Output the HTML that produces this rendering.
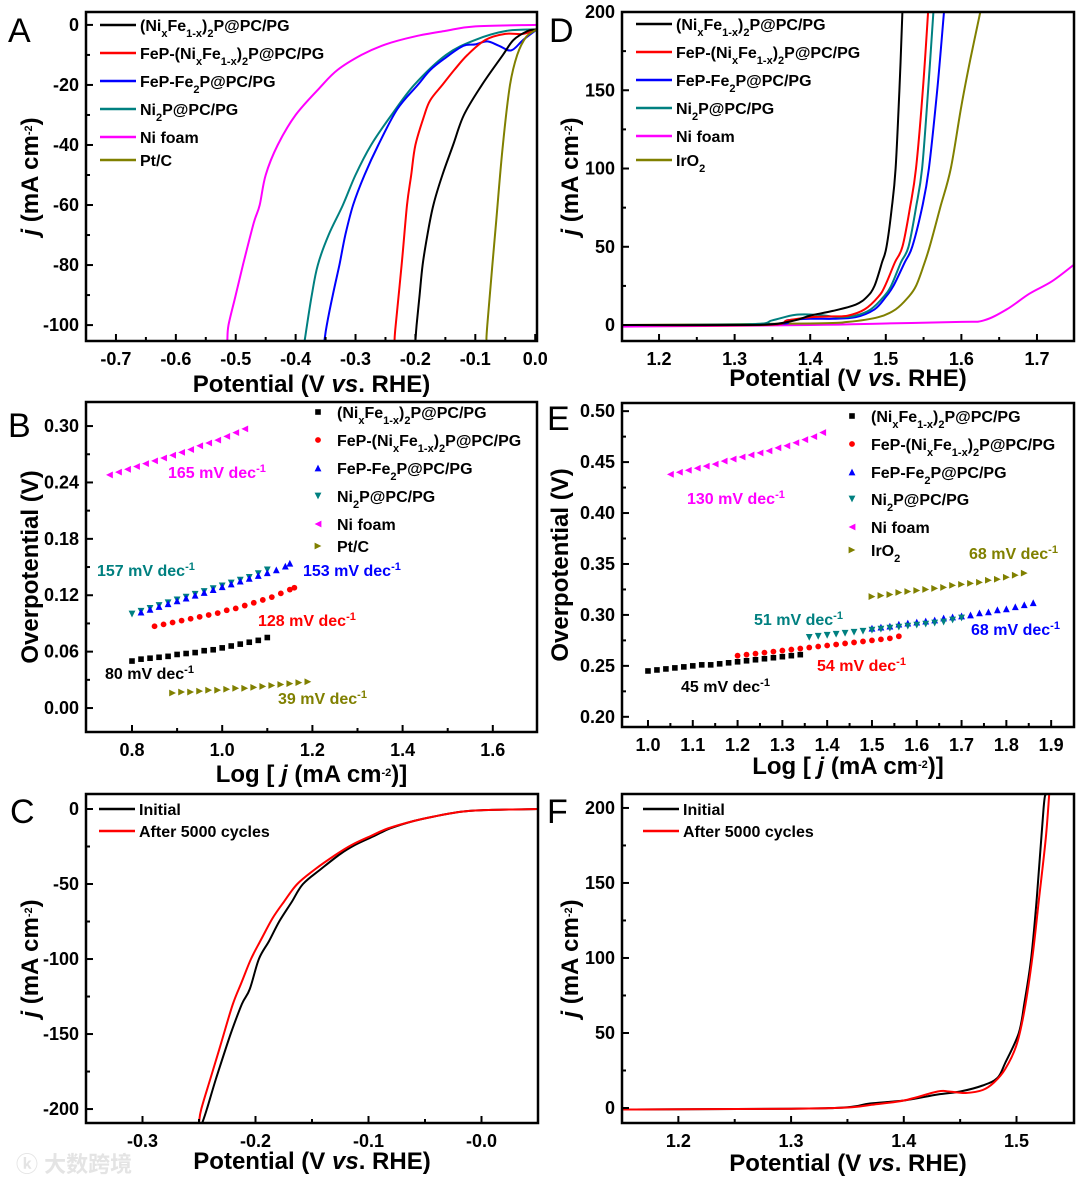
<!DOCTYPE html>
<html><head><meta charset="utf-8">
<style>
html,body{margin:0;padding:0;background:#fff;}
svg{display:block;font-family:"Liberation Sans",Arial,sans-serif;}
.tk{font-size:18px;font-weight:bold;fill:#000;}
.lg{font-size:16px;font-weight:bold;fill:#000;}
.at{font-size:24px;font-weight:bold;fill:#000;}
.pl{font-size:34px;fill:#000;}
.an{font-size:16px;font-weight:bold;}
</style></head>
<body>
<svg id="fig" width="1080" height="1180" viewBox="0 0 1080 1180" xmlns="http://www.w3.org/2000/svg">
<text x="16" y="1172" font-size="22" font-weight="bold" fill="#e4e4e4" font-family="'Liberation Sans','Noto Sans CJK SC',sans-serif">ⓚ 大数跨境</text>
</svg>
<script>
// ---------- Panel A data (HER polarization) ----------
const aBlackX=[0.003,-0.012,-0.036,-0.054,-0.089,-0.119,-0.137,-0.155,-0.17,-0.18,-0.188,-0.193,-0.198,-0.2];
const aBlackY=[-1.5,-2,-5,-10,-20,-30,-40,-50,-60,-70,-80,-90,-100,-105.3];
const aRedX=[0.003,-0.02,-0.05,-0.083,-0.113,-0.135,-0.155,-0.175,-0.185,-0.2,-0.207,-0.214,-0.223,-0.233,-0.235];
const aRedY=[-1.5,-3,-3,-5,-10,-15,-20,-25,-30,-40,-50,-60,-80,-100,-105.3];
const aBlueX=[0.003,-0.02,-0.04,-0.06,-0.08,-0.1,-0.12,-0.15,-0.175,-0.196,-0.23,-0.262,-0.285,-0.304,-0.317,-0.327,-0.338,-0.348,-0.352];
const aBlueY=[-1.5,-5,-8.5,-7,-5.5,-6.5,-7,-11,-15,-20,-28,-40,-50,-60,-70,-80,-90,-100,-105.3];
const aTealX=[0.003,-0.048,-0.1,-0.149,-0.202,-0.24,-0.274,-0.3,-0.321,-0.345,-0.363,-0.373,-0.381,-0.385];
const aTealY=[-1.5,-2,-5,-10,-20,-30,-40,-50,-60,-70,-80,-90,-100,-105.3];
const aNiX=[0.003,-0.1,-0.15,-0.2,-0.25,-0.29,-0.33,-0.36,-0.4,-0.43,-0.45,-0.46,-0.47,-0.488,-0.5,-0.512,-0.514];
const aNiY=[0,-0.5,-2,-3.8,-6.5,-10,-15,-21,-30,-40,-50,-60,-66,-80,-90,-100,-105.3];
const aPtX=[0.003,-0.015,-0.03,-0.042,-0.054,-0.065,-0.08,-0.081];
const aPtY=[-1.5,-4,-10,-20,-40,-65,-100,-105.3];
// ---------- Panel D data (OER polarization) ----------
const dBlackX=[1.15,1.3,1.35,1.38,1.4,1.43,1.46,1.475,1.485,1.495,1.501,1.508,1.513,1.518,1.522];
const dBlackY=[0,0,0.5,3,6,9,13,18,25,40,50,75,100,150,200];
const dRedX=[1.15,1.34,1.37,1.4,1.43,1.45,1.472,1.49,1.499,1.512,1.522,1.532,1.54,1.549,1.556];
const dRedY=[0,0,3,5,5.5,6,10,18,25,40,50,75,100,150,200];
const dTealX=[1.15,1.32,1.35,1.38,1.41,1.44,1.46,1.48,1.497,1.507,1.52,1.53,1.54,1.548,1.556,1.563];
const dTealY=[0,0.5,3,6.5,6.5,5,6,10,18,25,40,50,75,100,150,200];
const dBlueX=[1.15,1.35,1.37,1.4,1.43,1.46,1.485,1.5,1.51,1.525,1.535,1.548,1.557,1.568,1.577];
const dBlueY=[0,0.5,3,4,4,5,10,18,25,40,50,75,100,150,200];
const dNiX=[1.15,1.4,1.5,1.6,1.63,1.66,1.69,1.72,1.75];
const dNiY=[-1,0,1,2,3,10,20,28,39];
const dIrX=[1.15,1.4,1.45,1.49,1.513,1.53,1.54,1.55,1.558,1.572,1.586,1.6,1.612,1.625];
const dIrY=[0,1,2,5,10,18,25,38,50,75,100,140,170,200];
// ---------- Panel B data (HER Tafel) ----------
const bBlackX=[0.80,0.82,0.84,0.86,0.88,0.90,0.92,0.94,0.96,0.98,1.00,1.02,1.04,1.06,1.08,1.10];
const bBlackY=[0.050,0.052,0.053,0.054,0.055,0.057,0.058,0.059,0.061,0.062,0.064,0.066,0.068,0.070,0.072,0.075];
const bRedX=[0.85,0.87,0.89,0.91,0.93,0.95,0.97,0.99,1.01,1.03,1.05,1.07,1.09,1.11,1.13,1.15,1.16];
const bRedY=[0.087,0.089,0.091,0.093,0.095,0.097,0.099,0.101,0.104,0.106,0.109,0.112,0.115,0.118,0.122,0.126,0.128];
const bBlueX=[0.82,0.84,0.86,0.88,0.90,0.92,0.94,0.96,0.98,1.00,1.02,1.04,1.06,1.08,1.10,1.12,1.14,1.15];
const bBlueY=[0.102,0.105,0.108,0.111,0.114,0.117,0.120,0.123,0.126,0.129,0.132,0.135,0.138,0.141,0.144,0.147,0.151,0.154];
const bTealX=[0.80,0.82,0.84,0.86,0.88,0.90,0.92,0.94,0.96,0.98,1.00,1.02,1.04,1.06,1.08,1.10];
const bTealY=[0.100,0.103,0.106,0.109,0.112,0.115,0.118,0.121,0.124,0.127,0.130,0.133,0.136,0.139,0.143,0.147];
const bNiX=[0.75,0.77,0.79,0.81,0.83,0.85,0.87,0.89,0.91,0.93,0.95,0.97,0.99,1.01,1.03,1.05];
const bNiY=[0.248,0.251,0.254,0.257,0.260,0.263,0.266,0.269,0.272,0.275,0.279,0.282,0.285,0.289,0.293,0.297];
const bPtX=[0.89,0.91,0.93,0.95,0.97,0.99,1.01,1.03,1.05,1.07,1.09,1.11,1.13,1.15,1.17,1.19];
const bPtY=[0.016,0.017,0.017,0.018,0.019,0.019,0.020,0.021,0.021,0.022,0.023,0.024,0.025,0.026,0.027,0.028];
// ---------- Panel E data (OER Tafel) ----------
const eBlackX=[1.00,1.02,1.04,1.06,1.08,1.10,1.12,1.14,1.16,1.18,1.20,1.22,1.24,1.26,1.28,1.30,1.32,1.34];
const eBlackY=[0.245,0.246,0.247,0.248,0.249,0.250,0.251,0.251,0.252,0.253,0.254,0.255,0.256,0.257,0.258,0.259,0.260,0.261];
const eRedX=[1.20,1.22,1.24,1.26,1.28,1.30,1.32,1.34,1.36,1.38,1.40,1.42,1.44,1.46,1.48,1.50,1.52,1.54,1.56];
const eRedY=[0.260,0.261,0.262,0.263,0.264,0.265,0.266,0.267,0.268,0.269,0.270,0.271,0.272,0.273,0.274,0.275,0.276,0.277,0.279];
const eTealX=[1.36,1.38,1.40,1.42,1.44,1.46,1.48,1.50,1.52,1.54,1.56,1.58,1.60,1.62,1.64,1.66,1.68,1.70];
const eTealY=[0.278,0.279,0.280,0.281,0.282,0.283,0.284,0.285,0.286,0.287,0.288,0.289,0.290,0.291,0.292,0.293,0.295,0.297];
const eBlueX=[1.50,1.52,1.54,1.56,1.58,1.60,1.62,1.64,1.66,1.68,1.70,1.72,1.74,1.76,1.78,1.80,1.82,1.84,1.86];
const eBlueY=[0.287,0.288,0.289,0.291,0.292,0.293,0.294,0.295,0.297,0.298,0.299,0.300,0.302,0.303,0.305,0.306,0.308,0.310,0.312];
const eNiX=[1.05,1.07,1.09,1.11,1.13,1.15,1.17,1.19,1.21,1.23,1.25,1.27,1.29,1.31,1.33,1.35,1.37,1.39];
const eNiY=[0.438,0.440,0.442,0.444,0.446,0.448,0.451,0.453,0.455,0.457,0.459,0.461,0.464,0.466,0.469,0.472,0.475,0.479];
const eIrX=[1.50,1.52,1.54,1.56,1.58,1.60,1.62,1.64,1.66,1.68,1.70,1.72,1.74,1.76,1.78,1.80,1.82,1.84];
const eIrY=[0.318,0.319,0.320,0.322,0.323,0.324,0.325,0.326,0.327,0.329,0.330,0.331,0.332,0.334,0.335,0.337,0.339,0.341];
// ---------- Panel C data (HER stability) ----------
const cInitX=[-0.247,-0.243,-0.235,-0.222,-0.212,-0.205,-0.197,-0.188,-0.179,-0.168,-0.158,-0.142,-0.125,-0.112,-0.095,-0.081,-0.06,-0.042,-0.02,0,0.05];
const cInitY=[-209,-200,-180,-150,-130,-120,-100,-88,-75,-62,-50,-40,-30,-24,-18,-13,-8,-5,-2,-0.8,0];
const cAftX=[-0.25,-0.248,-0.24,-0.23,-0.22,-0.212,-0.204,-0.195,-0.185,-0.175,-0.163,-0.147,-0.13,-0.115,-0.098,-0.083,-0.06,-0.042,-0.02,0,0.05];
const cAftY=[-209,-200,-180,-155,-130,-115,-100,-87,-73,-62,-50,-40,-31,-24,-18,-13,-8,-5,-2,-0.8,0];
// ---------- Panel F data (OER stability) ----------
const fInitX=[1.15,1.3,1.35,1.37,1.4,1.43,1.45,1.47,1.483,1.49,1.502,1.507,1.513,1.518,1.524,1.526];
const fInitY=[-1,-0.5,0.5,3,5,9,11,15,20,30,50,70,100,140,200,209];
const fAftX=[1.15,1.3,1.35,1.37,1.4,1.43,1.44,1.455,1.47,1.48,1.49,1.5,1.507,1.514,1.52,1.526,1.529];
const fAftY=[-1,-0.5,0.3,2,5,11,11,10,12,17,26,42,65,100,140,180,209];

const NS='http://www.w3.org/2000/svg';
const svg=document.getElementById('fig');
function mk(tag,attrs,parent){const e=document.createElementNS(NS,tag);for(const k in attrs)e.setAttribute(k,attrs[k]);parent.appendChild(e);return e;}
const SB='<tspan font-size="11" baseline-shift="sub">';
const SP='<tspan font-size="11" baseline-shift="super">';
const NIFE='(Ni'+SB+'x</tspan>Fe'+SB+'1-x</tspan>)'+SB+'2</tspan>P@PC/PG';
const LBL=[NIFE,'FeP-'+NIFE,'FeP-Fe'+SB+'2</tspan>P@PC/PG','Ni'+SB+'2</tspan>P@PC/PG','Ni foam'];
const JT='<tspan font-style="italic">j</tspan> (mA cm'+SP+'-2</tspan>)';
const POT='Potential (V <tspan font-style="italic">vs</tspan>. RHE)';
const LOG='Log [ <tspan font-style="italic">j</tspan> (mA cm'+SP+'-2</tspan>)]';
const COL={k:'#000000',r:'#ff0000',b:'#0000ff',t:'#008080',m:'#ff00ff',o:'#808000'};

function panel(c){
  const g=mk('g',{},svg);
  
  
  const sx=v=>c.l+(v-c.x0)/(c.x1-c.x0)*(c.r-c.l);
  const sy=v=>c.b-(v-c.y0)/(c.y1-c.y0)*(c.b-c.t);
  const cp=mk('clipPath',{id:'cp'+c.id},g);
  mk('rect',{x:c.l,y:c.t,width:c.r-c.l,height:c.b-c.t},cp);
  const plot=mk('g',{'clip-path':'url(#cp'+c.id+')'},g);
  
  
  for(let v=c.xt0;v<=c.xt1+1e-9;v+=c.xm){
    const major=Math.abs(Math.round((v-c.xt0)/c.xs)*c.xs-(v-c.xt0))<1e-9;
    const X=sx(v); if(X<c.l-0.5||X>c.r+0.5)continue;
    mk('line',{x1:X,x2:X,y1:c.b,y2:c.b-(major?7:4),stroke:'#000','stroke-width':2},g);
    if(major){const t=mk('text',{x:X,y:c.b+24,'text-anchor':'middle',class:'tk'},g);t.textContent=v.toFixed(c.xd);
      
      }
  }
  for(let v=c.yt0;v<=c.yt1+1e-9;v+=c.ym){
    const major=Math.abs(Math.round((v-c.yt0)/c.ys)*c.ys-(v-c.yt0))<1e-9;
    const Y=sy(v); if(Y<c.t-0.5||Y>c.b+0.5)continue;
    mk('line',{x1:c.l,x2:c.l+(major?7:4),y1:Y,y2:Y,stroke:'#000','stroke-width':2},g);
    if(major){const t=mk('text',{x:c.l-7,y:Y+6,'text-anchor':'end',class:'tk'},g);t.textContent=(Math.abs(v)<1e-9?0:v).toFixed(c.yd);
      
      }
  }
  const fr=mk('rect',{x:c.l,y:c.t,width:c.r-c.l,height:c.b-c.t,fill:'none',stroke:'#000','stroke-width':2.5},g);
  
  
  const xt=mk('text',{x:(c.l+c.r)/2,y:c.b+c.xtOff,'text-anchor':'middle',class:'at'},g);xt.innerHTML=c.xtitle;
  
  
  const yt=mk('text',{x:0,y:0,'text-anchor':'middle',class:'at',transform:'translate('+c.ytx+','+(c.t+c.b)/2+') rotate(-90)'},g);yt.innerHTML=c.ytitle;
  
  
  const pl=mk('text',{x:c.plx,y:c.ply,class:'pl'},g);pl.textContent=c.id;
  
  
  return {g,plot,sx,sy};
}
function line(P,xs,ys,col,name){
  const pts=xs.map((x,i)=>[P.sx(x),P.sy(ys[i])]);
  let d='M'+pts[0][0].toFixed(1)+','+pts[0][1].toFixed(1);
  const t=0.17;
  for(let i=0;i<pts.length-1;i++){
    const p0=pts[Math.max(0,i-1)],p1=pts[i],p2=pts[i+1],p3=pts[Math.min(pts.length-1,i+2)];
    const c1=[p1[0]+(p2[0]-p0[0])*t,p1[1]+(p2[1]-p0[1])*t];
    const c2=[p2[0]-(p3[0]-p1[0])*t,p2[1]-(p3[1]-p1[1])*t];
    d+='C'+c1[0].toFixed(1)+','+c1[1].toFixed(1)+' '+c2[0].toFixed(1)+','+c2[1].toFixed(1)+' '+p2[0].toFixed(1)+','+p2[1].toFixed(1);
  }
  const p=mk('path',{d:d,fill:'none',stroke:col,'stroke-width':2,'stroke-linejoin':'round'},P.plot);
  
  
}
function marker(par,X,Y,shape,col){
  const s=3.4;let pts;
  if(shape==='sq'){return mk('rect',{x:X-2.8,y:Y-2.8,width:5.6,height:5.6,fill:col},par);}
  if(shape==='ci'){return mk('circle',{cx:X,cy:Y,r:2.9,fill:col},par);}
  if(shape==='up')pts=[[X,Y-s],[X-s,Y+s],[X+s,Y+s]];
  if(shape==='dn')pts=[[X,Y+s],[X-s,Y-s],[X+s,Y-s]];
  if(shape==='lt')pts=[[X-s,Y],[X+s,Y-s],[X+s,Y+s]];
  if(shape==='rt')pts=[[X+s,Y],[X-s,Y-s],[X-s,Y+s]];
  return mk('polygon',{points:pts.map(p=>p.join(',')).join(' '),fill:col},par);
}
function scatter(P,xs,ys,shape,col,name){
  const gg=mk('g',{},P.plot);
  
  
  for(let i=0;i<xs.length;i++){const m=marker(gg,P.sx(xs[i]),P.sy(ys[i]),shape,col);
    
    }
}
function legend(P,x0,y0,dy,items,type,yarr){
  for(let i=0;i<items.length;i++){
    const y=yarr?yarr[i]:y0+i*dy;const it=items[i];
    const gg=mk('g',{},P.g);
    
    
    if(type==='line'){mk('line',{x1:x0,x2:x0+36,y1:y,y2:y,stroke:it[1],'stroke-width':2.5},gg);
      const t=mk('text',{x:x0+40,y:y+6,class:'lg'},gg);t.innerHTML=it[0];}
    else{marker(gg,x0,y,it[2],it[1]);const t=mk('text',{x:x0+19,y:y+6,class:'lg'},gg);t.innerHTML=it[0];}
  }
}
function annot(P,x,y,txt,col){
  const t=mk('text',{x:x,y:y+6,class:'an',fill:col},P.g);t.innerHTML=txt+' mV dec'+SP+'-1</tspan>';
  
  
}

const A=panel({id:'A',l:86,r:537,t:12,b:341,x0:-0.75,x1:0.003,y0:-105.3,y1:4.3,xt0:-0.7,xt1:0.0,xs:0.1,xm:0.05,xd:1,yt0:-100,yt1:0,ys:20,ym:10,yd:0,xtitle:POT,ytitle:JT,xtOff:51,ytx:38,plx:8,ply:42});
line(A,aNiX,aNiY,COL.m,'ni-foam-line');line(A,aTealX,aTealY,COL.t,'ni2p-line');line(A,aBlueX,aBlueY,COL.b,'fep-fe2p-line');
line(A,aRedX,aRedY,COL.r,'fep-nife-line');line(A,aBlackX,aBlackY,COL.k,'nife-line');line(A,aPtX,aPtY,COL.o,'ptc-line');
legend(A,100,0,0,[[LBL[0],COL.k],[LBL[1],COL.r],[LBL[2],COL.b],[LBL[3],COL.t],[LBL[4],COL.m],['Pt/C',COL.o]],'line',[25,53,81,109,137,160]);

const D=panel({id:'D',l:622,r:1074,t:12,b:341,x0:1.151,x1:1.749,y0:-10.2,y1:200,xt0:1.2,xt1:1.7,xs:0.1,xm:0.05,xd:1,yt0:0,yt1:200,ys:50,ym:25,yd:0,xtitle:POT,ytitle:JT,xtOff:45,ytx:578,plx:549,ply:42});
line(D,dNiX,dNiY,COL.m,'ni-foam-line');line(D,dIrX,dIrY,COL.o,'iro2-line');line(D,dBlueX,dBlueY,COL.b,'fep-fe2p-line');
line(D,dTealX,dTealY,COL.t,'ni2p-line');line(D,dRedX,dRedY,COL.r,'fep-nife-line');line(D,dBlackX,dBlackY,COL.k,'nife-line');
legend(D,636,0,0,[[LBL[0],COL.k],[LBL[1],COL.r],[LBL[2],COL.b],[LBL[3],COL.t],[LBL[4],COL.m],['IrO'+SB+'2</tspan>',COL.o]],'line',[24,52,80,108,136,160]);

const B=panel({id:'B',l:86,r:537,t:402,b:732,x0:0.698,x1:1.698,y0:-0.0255,y1:0.3256,xt0:0.8,xt1:1.6,xs:0.2,xm:0.1,xd:1,yt0:0,yt1:0.3,ys:0.06,ym:0.03,yd:2,xtitle:LOG,ytitle:'Overpotential (V)',xtOff:50,ytx:38,plx:8,ply:437});
scatter(B,bNiX,bNiY,'lt',COL.m,'ni-foam-points');scatter(B,bTealX,bTealY,'dn',COL.t,'ni2p-points');scatter(B,bBlueX,bBlueY,'up',COL.b,'fep-fe2p-points');
scatter(B,bRedX,bRedY,'ci',COL.r,'fep-nife-points');scatter(B,bBlackX,bBlackY,'sq',COL.k,'nife-points');scatter(B,bPtX,bPtY,'rt',COL.o,'ptc-points');
legend(B,318,0,0,[[LBL[0],COL.k,'sq'],[LBL[1],COL.r,'ci'],[LBL[2],COL.b,'up'],[LBL[3],COL.t,'dn'],[LBL[4],COL.m,'lt'],['Pt/C',COL.o,'rt']],'marker',[412,440,468,496,524,546]);
annot(B,168,472,'165',COL.m);annot(B,97,570,'157',COL.t);annot(B,303,570,'153',COL.b);annot(B,258,620,'128',COL.r);annot(B,105,673,'80',COL.k);annot(B,278,698,'39',COL.o);

const E=panel({id:'E',l:622,r:1074,t:403,b:727,x0:0.942,x1:1.951,y0:0.19,y1:0.508,xt0:1.0,xt1:1.9,xs:0.1,xm:0.05,xd:1,yt0:0.2,yt1:0.5,ys:0.05,ym:0.025,yd:2,xtitle:LOG,ytitle:'Overpotential (V)',xtOff:47,ytx:568,plx:547,ply:430});
scatter(E,eNiX,eNiY,'lt',COL.m,'ni-foam-points');scatter(E,eIrX,eIrY,'rt',COL.o,'iro2-points');scatter(E,eBlueX,eBlueY,'up',COL.b,'fep-fe2p-points');
scatter(E,eTealX,eTealY,'dn',COL.t,'ni2p-points');scatter(E,eRedX,eRedY,'ci',COL.r,'fep-nife-points');scatter(E,eBlackX,eBlackY,'sq',COL.k,'nife-points');
legend(E,852,0,0,[[LBL[0],COL.k,'sq'],[LBL[1],COL.r,'ci'],[LBL[2],COL.b,'up'],[LBL[3],COL.t,'dn'],[LBL[4],COL.m,'lt'],['IrO'+SB+'2</tspan>',COL.o,'rt']],'marker',[416,444,472,499,527,550]);
annot(E,687,498,'130',COL.m);annot(E,969,553,'68',COL.o);annot(E,754,619,'51',COL.t);annot(E,971,629,'68',COL.b);annot(E,817,665,'54',COL.r);annot(E,681,686,'45',COL.k);

const C=panel({id:'C',l:86,r:538,t:794,b:1123,x0:-0.35,x1:0.05,y0:-209.3,y1:10,xt0:-0.3,xt1:0.0,xs:0.1,xm:0.05,xd:1,yt0:-200,yt1:0,ys:50,ym:25,yd:0,xtitle:POT,ytitle:JT,xtOff:46,ytx:38,plx:10,ply:823});
line(C,cInitX,cInitY,COL.k,'initial-line');line(C,cAftX,cAftY,COL.r,'after-5000-cycles-line');
legend(C,99,0,0,[['Initial',COL.k],['After 5000 cycles',COL.r]],'line',[809,831]);

const F=panel({id:'F',l:622,r:1074,t:794,b:1123,x0:1.15,x1:1.551,y0:-10,y1:209.3,xt0:1.2,xt1:1.5,xs:0.1,xm:0.05,xd:1,yt0:0,yt1:200,ys:50,ym:25,yd:0,xtitle:POT,ytitle:JT,xtOff:48,ytx:578,plx:547,ply:823});
line(F,fInitX,fInitY,COL.k,'initial-line');line(F,fAftX,fAftY,COL.r,'after-5000-cycles-line');
legend(F,643,0,0,[['Initial',COL.k],['After 5000 cycles',COL.r]],'line',[809,831]);
</script>
</body></html>
